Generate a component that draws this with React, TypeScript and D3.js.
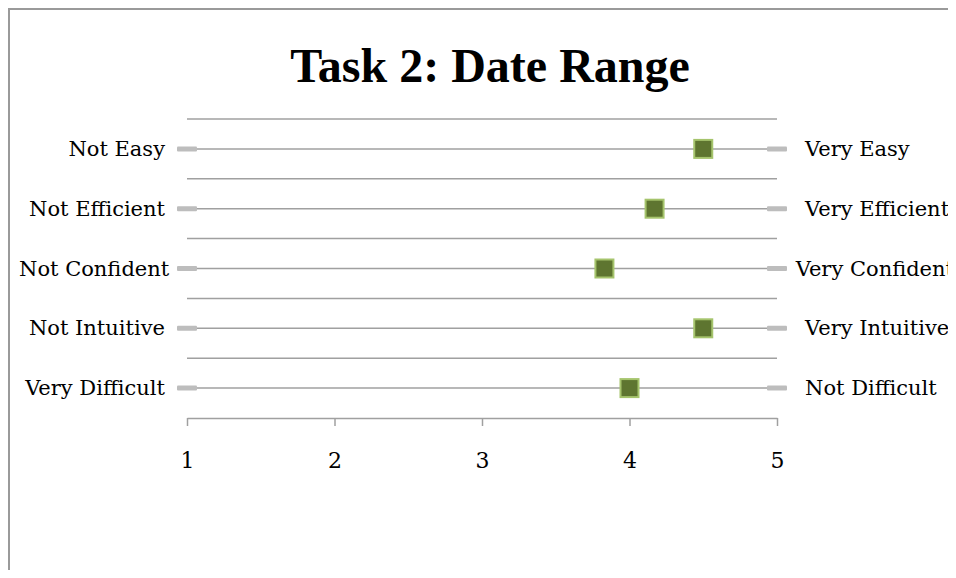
import { FC, useEffect, useRef } from "react"
import * as d3 from 'd3';

const lowLabels = ["Not Easy", "Not Efficient", "Not Confident", "Not Intuitive", "Very Difficult"]
const highLabels = ["Very Easy", "Very Efficient", "Very Confident", "Very Intuitive", "Not Difficult"]
const scores = [4.5, 4.17, 3.83, 4.5, 4.0]
const scaleTicks = [1, 2, 3, 4, 5]

const App: FC = () => {
    const svgRef = useRef<SVGSVGElement>(null);

    useEffect(() => {
        const width = 948
        const height = 562
        const svg = d3.select(svgRef.current)
            .attr("width", width)
            .attr("height", height)
            .style('display', 'block')
            .style('background', '#fff')
        svg.selectAll("*").remove()

        const font = "'DejaVu Serif', 'Liberation Serif', serif"

        // outer frame, only the top and left edges are inside the window
        svg.append('path')
            .attr('d', `M1,${height} V1 H${width}`)
            .attr('fill', 'none')
            .attr('stroke', '#9a9a9a')
            .attr('stroke-width', 2)

        // title
        svg.append('text')
            .attr('x', 482)
            .attr('y', 74)
            .attr('text-anchor', 'middle')
            .style('font-family', "'Liberation Serif', serif")
            .style('font-weight', 'bold')
            .style('font-size', '48px')
            .style('fill', '#000')
            .text("Task 2: Date Range")

        //setting the scaling
        const xScale = d3.scaleLinear()
            .domain([1, 5])
            .range([179, 769])
        const yScale = d3.scaleBand()
            .domain(lowLabels)
            .range([111, 410])
        const mid = (d: string) => (yScale(d) ?? 0) + yScale.bandwidth() / 2

        // horizontal gridlines between rows
        svg.append('g')
            .selectAll('line')
            .data(lowLabels)
            .join('line')
            .attr('x1', xScale(1))
            .attr('x2', xScale(5))
            .attr('y1', d => yScale(d) ?? 0)
            .attr('y2', d => yScale(d) ?? 0)
            .attr('stroke', '#a0a0a0')
            .attr('stroke-width', 1.5)

        // the axis at the bottom
        const xAxis = d3.axisBottom(xScale)
            .tickValues(scaleTicks)
            .tickFormat((d: any) => `${d}`)
            .tickSizeInner(8)
            .tickSizeOuter(0)
            .tickPadding(26)
        const axisG = svg.append('g')
            .attr('transform', `translate(0,${410})`)
            .call(xAxis)
        axisG.select('.domain').attr('stroke', '#a0a0a0').attr('stroke-width', 1.5)
        axisG.selectAll('.tick line').attr('stroke', '#a0a0a0').attr('stroke-width', 1.5)
        axisG.selectAll('.tick text')
            .style('font-family', font)
            .style('font-size', '22px')
            .style('fill', '#000')

        // one row line per item
        const rows = svg.append('g')
            .selectAll('g')
            .data(lowLabels)
            .join('g')
        rows.append('line')
            .attr('x1', xScale(1))
            .attr('x2', xScale(5))
            .attr('y1', d => mid(d))
            .attr('y2', d => mid(d))
            .attr('stroke', '#a0a0a0')
            .attr('stroke-width', 1.5)
        // end caps at 1 and 5
        rows.selectAll('rect.cap')
            .data(d => [1, 5].map(v => ({ d, v })))
            .join('rect')
            .attr('class', 'cap')
            .attr('x', p => xScale(p.v) - 10)
            .attr('y', p => mid(p.d) - 2.5)
            .attr('width', 20)
            .attr('height', 5)
            .attr('rx', 1)
            .attr('fill', '#bdbdbd')

        // left labels, right aligned but kept inside the frame
        rows.append('text')
            .attr('y', d => mid(d) + 7)
            .style('font-family', font)
            .style('font-size', '21px')
            .style('fill', '#000')
            .text(d => d)
            .each(function () {
                const el = this as SVGTextElement
                const w = el.getComputedTextLength()
                el.setAttribute('x', `${Math.max(11, 157 - w)}`)
            })
        // right labels, left aligned but kept inside the frame
        rows.append('text')
            .attr('y', d => mid(d) + 7)
            .style('font-family', font)
            .style('font-size', '21px')
            .style('fill', '#000')
            .text((_, i) => highLabels[i])
            .each(function () {
                const el = this as SVGTextElement
                const w = el.getComputedTextLength()
                el.setAttribute('x', `${Math.min(797, 946 - w)}`)
            })

        // markers
        rows.append('rect')
            .attr('x', (_, i) => xScale(scores[i]) - 9)
            .attr('y', d => mid(d) - 9)
            .attr('width', 18)
            .attr('height', 18)
            .attr('fill', '#5e7530')
            .attr('stroke', '#a5c46c')
            .attr('stroke-width', 2)
    }, [])

    return (
        <svg ref={svgRef}></svg>
    )
}

export default App
